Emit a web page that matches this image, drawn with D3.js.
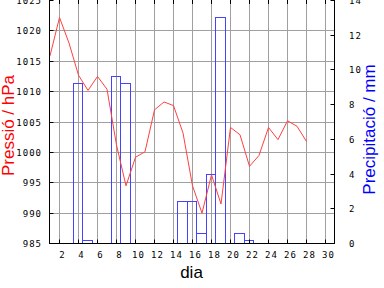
<!DOCTYPE html>
<meta charset="utf-8">
<title>Pressió i precipitació</title>
<style>
body { margin: 0; background: #fff; }
svg { display: block; }
.tick-label { font-family: "DejaVu Sans Mono", monospace; font-size: 9px; letter-spacing: 1px; fill: #000; }
.title { font-family: "Liberation Sans", Arial, sans-serif; font-size: 17px; }
</style>
<svg width="384" height="288"></svg>
<script src="https://d3js.org/d3.v7.min.js"></script>
<script>
// pressió diària (hPa)
var days = [1,2,3,4,5,6,7,8,9,10,11,12,13,14,15,16,17,18,19,20,21,22,23,24,25,26,27,28]
var pressure = [1015.9,1022.2,1018.0,1012.7,1010.2,1012.5,1010.4,1001.2,994.5,999.2,1000.1,1007.0,1008.3,1007.7,1003.2,994.5,990.0,996.3,991.5,1004.1,1002.9,997.7,999.5,1004.1,1002.1,1005.2,1004.3,1001.8]

// precipitació (mm)
var rainDays = [4,5,8,9,15,16,17,18,19,21,22]
var rain = [9.2,0.2,9.6,9.2,2.4,2.4,0.6,4.0,13.0,0.6,0.2]

var dayTicks = [2,4,6,8,10,12,14,16,18,20,22,24,26,28,30]
var pTicks = [985,990,995,1000,1005,1010,1015,1020,1025]
var rTicks = [0,2,4,6,8,10,12,14]

var svg = d3.select("svg")

var x = d3.scaleLinear().domain([1,31]).range([50,335])
var yP = d3.scaleLinear().domain([985,1025]).range([243.5,0.5])
var yR = d3.scaleLinear().domain([0,14]).range([243.5,0.5])

function px(v) { return Math.round(v - 0.5) + 0.5 }

var left = x(1) - 0.5, right = x(31) - 0.5, bottom = yP(985), top = yP(1025) - 1

// graella
var grid = svg.append("g").attr("stroke", "#a0a0a0").attr("stroke-width", 1)
grid.selectAll("line.v")
	.data(dayTicks.filter(function(d) { return d < 31 }))
	.enter().append("line")
		.attr("x1", function(d) { return px(x(d)) })
		.attr("x2", function(d) { return px(x(d)) })
		.attr("y1", top).attr("y2", bottom)
grid.selectAll("line.h")
	.data(pTicks.filter(function(d) { return d > 985 && d < 1025 }))
	.enter().append("line")
		.attr("y1", function(d) { return px(yP(d)) })
		.attr("y2", function(d) { return px(yP(d)) })
		.attr("x1", left).attr("x2", right)

// barres de precipitació
svg.append("g")
	.selectAll("rect")
	.data(rainDays)
	.enter().append("rect")
		.attr("x", function(d) { return Math.round(x(d - 0.5)) - 0.5 })
		.attr("width", function(d) { return Math.round(x(d + 0.5)) - Math.round(x(d - 0.5)) })
		.attr("y", function(d, i) { return px(yR(rain[i])) })
		.attr("height", function(d, i) { return bottom - px(yR(rain[i])) })
		.attr("fill", "none")
		.attr("stroke", "#4444ff")
		.attr("stroke-width", 1)

// línia de pressió
var line = d3.line()
	.x(function(d) { return x(d) })
	.y(function(d, i) { return yP(pressure[i]) })
svg.append("path")
	.datum(days)
	.attr("d", line)
	.attr("fill", "none")
	.attr("stroke", "#ff4040")
	.attr("stroke-width", 1)

// eixos
var axes = svg.append("g").attr("stroke", "#000").attr("stroke-width", 1)
axes.append("line").attr("x1", left).attr("x2", left).attr("y1", top).attr("y2", bottom + 0.5)
axes.append("line").attr("x1", right).attr("x2", right).attr("y1", top).attr("y2", bottom + 0.5)
axes.append("line").attr("x1", left).attr("x2", right).attr("y1", bottom).attr("y2", bottom)
axes.selectAll("line.tb")
	.data(dayTicks)
	.enter().append("line")
		.attr("x1", function(d) { return px(x(d)) })
		.attr("x2", function(d) { return px(x(d)) })
		.attr("y1", bottom).attr("y2", bottom - 4)
axes.selectAll("line.tt")
	.data(dayTicks)
	.enter().append("line")
		.attr("x1", function(d) { return px(x(d)) })
		.attr("x2", function(d) { return px(x(d)) })
		.attr("y1", 0).attr("y2", 4)
axes.selectAll("line.tl")
	.data(pTicks)
	.enter().append("line")
		.attr("y1", function(d) { return px(yP(d)) })
		.attr("y2", function(d) { return px(yP(d)) })
		.attr("x1", left).attr("x2", left + 4)
axes.selectAll("line.tr")
	.data(rTicks)
	.enter().append("line")
		.attr("y1", function(d) { return px(yR(d)) })
		.attr("y2", function(d) { return px(yR(d)) })
		.attr("x1", right).attr("x2", right - 4)

// etiquetes
svg.append("g").selectAll("text")
	.data(dayTicks)
	.enter().append("text")
		.attr("class", "tick-label")
		.attr("x", function(d) { return x(d) + 3 })
		.attr("y", 258)
		.attr("text-anchor", "middle")
		.text(function(d) { return d })
svg.append("g").selectAll("text")
	.data(pTicks)
	.enter().append("text")
		.attr("class", "tick-label")
		.attr("x", 42)
		.attr("y", function(d) { return yP(d) + 3.5 })
		.attr("text-anchor", "end")
		.text(function(d) { return d })
svg.append("g").selectAll("text")
	.data(rTicks)
	.enter().append("text")
		.attr("class", "tick-label")
		.attr("x", 349)
		.attr("y", function(d) { return yR(d) + 3.5 })
		.text(function(d) { return d })

svg.append("text")
	.attr("class", "title")
	.attr("transform", "translate(14,125.5) rotate(-90)")
	.attr("text-anchor", "middle")
	.attr("fill", "#ff0000")
	.text("Pressió / hPa")
svg.append("text")
	.attr("class", "title")
	.attr("transform", "translate(375,129.5) rotate(-90)")
	.attr("text-anchor", "middle")
	.attr("fill", "#0000ff")
	.text("Precipitació / mm")
svg.append("text")
	.attr("class", "title")
	.attr("x", 191.5)
	.attr("y", 278)
	.attr("text-anchor", "middle")
	.attr("fill", "#000")
	.text("dia")
</script>
